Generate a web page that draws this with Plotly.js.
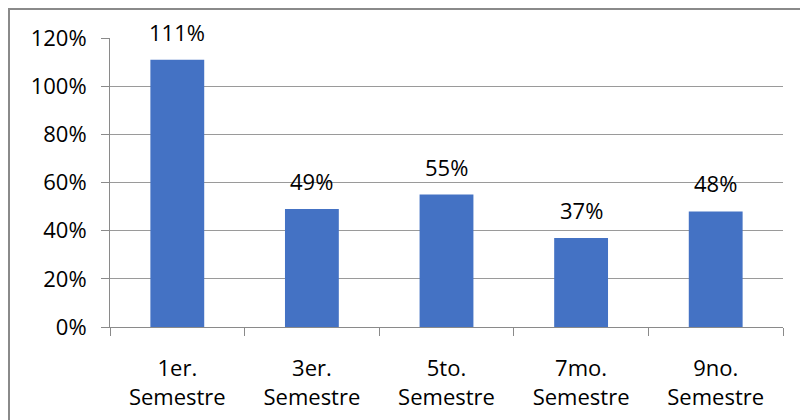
<!DOCTYPE html>
<html>
<head>
<meta charset="utf-8">
<script src="https://cdn.plot.ly/plotly-3.0.1.min.js"></script>
<style>
html,body{margin:0;padding:0;background:#fff;}
#wrap{position:relative;width:800px;height:420px;overflow:hidden;}
#chart{width:800px;height:420px;}
#frame{position:absolute;left:8px;top:8px;width:900px;height:600px;border-left:2px solid #8a8a8a;border-top:2px solid #8a8a8a;pointer-events:none;}
</style>
</head>
<body>
<div id="wrap"><div id="chart"></div><div id="frame"></div></div>
<script>
const categories = ['1er.<br>Semestre', '3er.<br>Semestre', '5to.<br>Semestre', '7mo.<br>Semestre', '9no.<br>Semestre'];
const values = [111, 49, 55, 37, 48];
const labels = ['111%', '49%', '55%', '37%', '48%'];
const yTicks = [0, 20, 40, 60, 80, 100, 120];

const font = {family: '"Open Sans", sans-serif', size: 22, color: '#000'};

const trace = {
  type: 'bar',
  x: categories,
  y: values,
  marker: {color: '#4472C4'},
  hoverinfo: 'none'
};

const annotations = categories.map((c, i) => ({
  x: c, y: values[i], xref: 'x', yref: 'y',
  text: labels[i], showarrow: false,
  yanchor: 'bottom', yshift: 11,
  font: font
}));

const layout = {
  width: 800, height: 420,
  margin: {l: 110, r: 17, t: 38, b: 93},
  paper_bgcolor: '#fff', plot_bgcolor: '#fff',
  bargap: 0.6,
  showlegend: false,
  font: font,
  xaxis: {
    type: 'category',
    showline: true, linecolor: '#8a8a8a', linewidth: 1,
    ticks: 'outside', tickson: 'boundaries', ticklen: 8, tickcolor: '#8a8a8a',
    showgrid: false, zeroline: false,
    ticklabelstandoff: 22,
    tickfont: font
  },
  yaxis: {
    range: [0, 120],
    tickvals: yTicks,
    ticktext: yTicks.map(v => v + '%'),
    showline: true, linecolor: '#8a8a8a', linewidth: 1,
    ticks: 'outside', ticklen: 8, tickcolor: '#8a8a8a',
    showgrid: true, gridcolor: '#9a9a9a', gridwidth: 1,
    zeroline: false,
    ticklabelstandoff: 10,
    tickfont: font
  },
  annotations: annotations
};

Plotly.newPlot('chart', [trace], layout, {displayModeBar: false, staticPlot: true});
</script>
</body>
</html>
